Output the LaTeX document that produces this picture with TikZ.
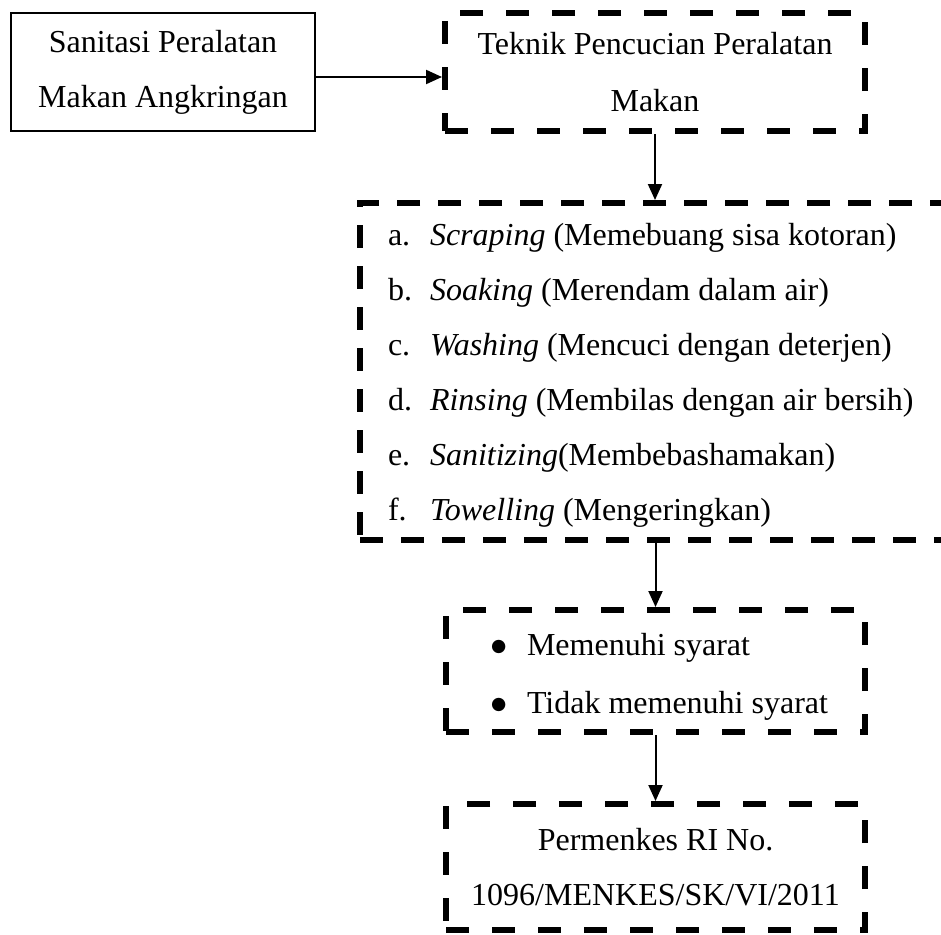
\documentclass[tikz,border=0pt]{standalone}
\usepackage{fontspec}
\setmainfont{Liberation Serif}
\newfontfamily\dejavu{DejaVu Sans}
\usetikzlibrary{arrows.meta}
\newcommand{\bigbul}{\raisebox{3.5pt}{\dejavu\fontsize{17.5}{17.5}\selectfont ●}}
\begin{document}
\begin{tikzpicture}[x=1pt,y=-1pt,
  txt/.style={font=\fontsize{32}{55}\selectfont, inner sep=0pt, outer sep=0pt},
  solidbox/.style={draw, line width=1.5pt, inner sep=0pt, align=center, font=\fontsize{32}{55}\selectfont},
  dbox/.style={draw, line width=6pt, dash pattern=on 23pt off 23pt, inner sep=0pt, align=center, font=\fontsize{32}{55}\selectfont},
  conn/.style={-{Triangle[length=16pt,width=14pt]}, line width=2pt}]
\useasboundingbox (0,0) rectangle (941,934);
\clip (0,0) rectangle (941,934);
% boxes
\node[solidbox, minimum width=304pt, minimum height=118pt] (b1) at (163,72) {Sanitasi Peralatan\\Makan Angkringan};
\node[dbox, minimum width=420pt, minimum height=118pt] (b2) at (655,72) {Teknik Pencucian Peralatan\\[2pt]Makan};
\node[dbox, dash pattern=on 23pt off 18pt, minimum width=620pt, minimum height=337pt] (b3) at (670,371.5) {};
\node[dbox, minimum width=419pt, minimum height=122pt] (b4) at (655.5,671) {};
\node[dbox, minimum width=419pt, minimum height=126pt] (b5) at (655.5,867) {Permenkes RI No.\\1096/MENKES/SK/VI/2011};
% list text
\node[txt, anchor=base west] (l1) at (388,245) {\makebox[42pt][l]{a.}\textit{Scraping} (Memebuang sisa kotoran)};
\node[txt, anchor=base west] (l2) at (388,300) {\makebox[42pt][l]{b.}\textit{Soaking} (Merendam dalam air)};
\node[txt, anchor=base west] (l3) at (388,355) {\makebox[42pt][l]{c.}\textit{Washing} (Mencuci dengan deterjen)};
\node[txt, anchor=base west] (l4) at (388,410) {\makebox[42pt][l]{d.}\textit{Rinsing} (Membilas dengan air bersih)};
\node[txt, anchor=base west] (l5) at (388,465) {\makebox[42pt][l]{e.}\textit{Sanitizing}(Membebashamakan)};
\node[txt, anchor=base west] (l6) at (388,520) {\makebox[42pt][l]{f.}\textit{Towelling} (Mengeringkan)};
% bullet text
\node[txt, anchor=base west] (m1) at (491,655) {\makebox[36pt][l]{\bigbul}Memenuhi syarat};
\node[txt, anchor=base west] (m2) at (491,713) {\makebox[36pt][l]{\bigbul}Tidak memenuhi syarat};
% connectors
\draw[conn] ([yshift=-5pt]b1.east) -- ([yshift=-5pt]b2.west);
\draw[conn] (b2.south) -- (b2.south |- b3.north);
\draw[conn] (b3.south -| b4.north) -- (b4.north);
\draw[conn] (b4.south) -- (b5.north);
\end{tikzpicture}
\end{document}
